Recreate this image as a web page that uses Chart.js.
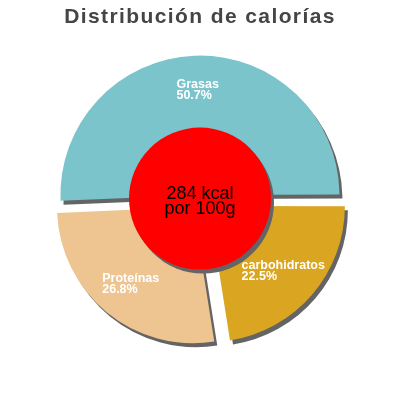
<!DOCTYPE html>
<html>
<head>
<meta charset="utf-8">
<script src="https://cdn.jsdelivr.net/npm/chart.js@4.4.1/dist/chart.umd.min.js"></script>
<style>
  html, body { margin: 0; padding: 0; background: #fff; }
  #wrap { width: 400px; height: 400px; }
</style>
</head>
<body>
<div id="wrap"><canvas id="chart"></canvas></div>
<script>
const categories = ['Grasas', 'carbohidratos', 'Proteínas'];
const percentages = [50.7, 22.5, 26.8];
const centerLines = ['284 kcal', 'por 100g'];
const sliceColors = ['#7bc4cc', '#daa520', '#eec591'];
// chart.js moves a slice by offset/4
const sliceOffsets = [14, 46, 44];
const discRadius = 71;

// shadow under slices, red disc in the middle, labels on top
const pieExtras = {
    id: 'pieExtras',
    beforeDraw(chart) {
        chart.ctx.letterSpacing = '1.4px';
    },
    beforeDatasetsDraw(chart) {
        const ctx = chart.ctx;
        ctx.letterSpacing = '0px';
        ctx.save();
        ctx.shadowColor = 'rgb(100,100,100)';
        ctx.shadowOffsetX = 3;
        ctx.shadowOffsetY = 4;
        ctx.shadowBlur = 0;
    },
    afterDatasetsDraw(chart) {
        const ctx = chart.ctx;
        const meta = chart.getDatasetMeta(0);
        const c = meta.data[0];
        ctx.fillStyle = '#ff0000';
        ctx.beginPath();
        ctx.arc(c.x, c.y, discRadius, 0, Math.PI * 2);
        ctx.fill();
        ctx.restore();

        ctx.save();
        ctx.fillStyle = '#fff';
        ctx.font = 'bold 12.5px "Liberation Sans", Arial, sans-serif';
        ctx.textAlign = 'left';
        ctx.textBaseline = 'alphabetic';
        meta.data.forEach((arc, i) => {
            const mid = (arc.startAngle + arc.endAngle) / 2;
            const r = arc.outerRadius * 0.805;
            const px = arc.x + Math.cos(mid) * r;
            const py = arc.y + Math.sin(mid) * r;
            const name = categories[i];
            const pct = percentages[i].toFixed(1) + '%';
            const w = Math.max(ctx.measureText(name).width, ctx.measureText(pct).width);
            const left = px - w / 2;
            ctx.fillText(name, left, py - 1);
            ctx.fillText(pct, left, py + 10);
        });
        ctx.fillStyle = '#000';
        ctx.font = '18px "Liberation Sans", Arial, sans-serif';
        ctx.textAlign = 'center';
        ctx.fillText(centerLines[0], c.x, c.y);
        ctx.fillText(centerLines[1], c.x, c.y + 15.5);
        ctx.restore();
    }
};

new Chart(document.getElementById('chart'), {
    type: 'pie',
    data: {
        labels: categories,
        datasets: [{
            data: percentages,
            backgroundColor: sliceColors,
            offset: sliceOffsets,
            borderWidth: 0,
            clip: false
        }]
    },
    options: {
        responsive: true,
        maintainAspectRatio: false,
        animation: false,
        events: [],
        rotation: 267.5,
        radius: 136,
        layout: { padding: { top: 0, bottom: 43, left: 0, right: 0 } },
        plugins: {
            legend: { display: false },
            tooltip: { enabled: false },
            title: {
                display: true,
                text: 'Distribución de calorías',
                color: '#454545',
                font: { family: '"Liberation Sans", Arial, sans-serif', size: 21, weight: 'bold' },
                padding: { top: 5, bottom: 10 }
            }
        }
    },
    plugins: [pieExtras]
});
</script>
</body>
</html>
